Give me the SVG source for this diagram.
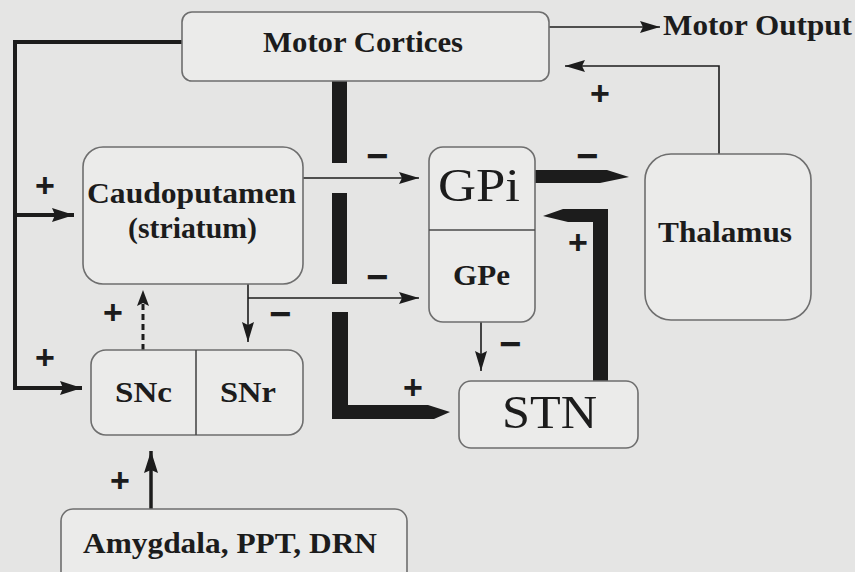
<svg xmlns="http://www.w3.org/2000/svg" width="855" height="572" viewBox="0 0 855 572">
  <defs>
    <style>
      .box { fill: #ebebea; stroke: #6e6e6e; stroke-width: 1.6; }
      .div { stroke: #4a4a4a; stroke-width: 1.6; }
      .lbl { font-family: "Liberation Serif", "Times New Roman", serif; font-weight: bold; fill: #1c1c1c; font-size: 29px; }
      .big { font-family: "Liberation Serif", "Times New Roman", serif; font-weight: normal; fill: #1c1c1c; font-size: 47px; }
      .sign { font-family: "Liberation Sans", Arial, sans-serif; font-weight: bold; fill: #1c1c1c; text-anchor: middle; }
      .thin { fill: none; stroke: #1c1c1c; stroke-width: 1.6; }
      .thick4 { fill: none; stroke: #1c1c1c; stroke-width: 4; }
      .bar { fill: #1c1c1c; }
    </style>
    <marker id="ah" markerUnits="userSpaceOnUse" markerWidth="20" markerHeight="12" viewBox="0 0 20 12" refX="20" refY="6" orient="auto">
      <path d="M0,0 L20,6 L0,12 L3,6 z" fill="#1c1c1c"/>
    </marker>
    <marker id="ahb" markerUnits="userSpaceOnUse" markerWidth="22" markerHeight="14" viewBox="0 0 22 14" refX="22" refY="7" orient="auto">
      <path d="M0,0 L22,7 L0,14 L3,7 z" fill="#1c1c1c"/>
    </marker>
  </defs>

  <rect x="0" y="0" width="855" height="572" fill="#e5e5e4"/>

  <g id="connectors">
    <!-- Motor Cortices feedback to striatum and SNc -->
    <path class="thick4" d="M182,42 H15 V388 H82" marker-end="url(#ahb)"/>
    <path class="thick4" d="M15,215 H74" marker-end="url(#ahb)"/>
    <!-- Motor cortices to motor output -->
    <path class="thin" d="M549,27 H660" marker-end="url(#ah)"/>
    <!-- Thalamus to motor cortices -->
    <path class="thin" d="M719,154 V66 H565" marker-end="url(#ah)"/>
    <!-- Caudoputamen to GPi -->
    <path class="thin" d="M303,178 H419" marker-end="url(#ah)"/>
    <!-- Caudoputamen to SNr and GPe -->
    <path class="thin" d="M248,284 V342" marker-end="url(#ah)"/>
    <path class="thin" d="M248,298 H419" marker-end="url(#ah)"/>
    <!-- GPe to STN -->
    <path class="thin" d="M481,322 V371" marker-end="url(#ah)"/>
    <!-- SNc to caudoputamen (dashed) -->
    <path d="M143,350 V300" fill="none" stroke="#1c1c1c" stroke-width="3" stroke-dasharray="6,4"/>
    <path d="M137,306 L143,290 L149,306 L143,303 z" fill="#1c1c1c"/>
    <!-- Amygdala to SNc -->
    <path d="M151,509 V451" fill="none" stroke="#1c1c1c" stroke-width="3.5" marker-end="url(#ahb)"/>
    <!-- Motor cortices to STN (hyperdirect, thick, interrupted) -->
    <rect class="bar" x="332" y="81" width="15" height="82"/>
    <rect class="bar" x="332" y="193" width="15" height="91"/>
    <polygon class="bar" points="332,312 348,312 348,405 428,405 450,412 434,419 332,419"/>
    <!-- GPi to Thalamus -->
    <polygon class="bar" points="535,170 607,170 629,177 600,183 535,183"/>
    <!-- STN to GPi -->
    <polygon class="bar" points="608,382 593,382 593,222 568,222 543,216 563,209 608,209"/>
    <!-- signs -->
    <text class="sign" x="45" y="197" font-size="34">+</text>
    <text class="sign" x="45" y="369" font-size="34">+</text>
    <text class="sign" x="113" y="324" font-size="34">+</text>
    <text class="sign" x="120" y="492" font-size="34">+</text>
    <text class="sign" x="413" y="399" font-size="34">+</text>
    <text class="sign" x="578" y="254" font-size="34">+</text>
    <text class="sign" x="600" y="105" font-size="34">+</text>
    <text class="sign" x="377" y="169" font-size="38">−</text>
    <text class="sign" x="377" y="290" font-size="38">−</text>
    <text class="sign" x="280" y="327" font-size="38">−</text>
    <text class="sign" x="510" y="357" font-size="38">−</text>
    <text class="sign" x="587" y="169" font-size="38">−</text>
  </g>

  <g id="motor-cortices">
    <rect class="box" x="182" y="12" width="367" height="69" rx="10"/>
    <text class="lbl" x="263" y="52" textLength="200" lengthAdjust="spacingAndGlyphs">Motor Cortices</text>
  </g>
  <g id="motor-output">
    <text class="lbl" x="663" y="35" textLength="189" lengthAdjust="spacingAndGlyphs">Motor Output</text>
  </g>
  <g id="caudoputamen">
    <rect class="box" x="83" y="147" width="220" height="137" rx="20"/>
    <text class="lbl" x="87" y="203" textLength="209" lengthAdjust="spacingAndGlyphs">Caudoputamen</text>
    <text class="lbl" x="128" y="238" textLength="129" lengthAdjust="spacingAndGlyphs">(striatum)</text>
  </g>
  <g id="gp">
    <rect class="box" x="429" y="147" width="106" height="175" rx="14"/>
    <line class="div" x1="429" y1="230" x2="535" y2="230"/>
    <text class="big" x="438" y="201" textLength="82" lengthAdjust="spacingAndGlyphs">GPi</text>
    <text class="lbl" x="453" y="285" textLength="57" lengthAdjust="spacingAndGlyphs">GPe</text>
  </g>
  <g id="thalamus">
    <rect class="box" x="645" y="154" width="166" height="166" rx="26"/>
    <text class="lbl" x="658" y="242" textLength="134" lengthAdjust="spacingAndGlyphs">Thalamus</text>
  </g>
  <g id="sn">
    <rect class="box" x="91" y="350" width="212" height="85" rx="15"/>
    <line class="div" x1="196" y1="350" x2="196" y2="435"/>
    <text class="lbl" x="115" y="402" textLength="57" lengthAdjust="spacingAndGlyphs">SNc</text>
    <text class="lbl" x="220" y="402" textLength="56" lengthAdjust="spacingAndGlyphs">SNr</text>
  </g>
  <g id="stn">
    <rect class="box" x="459" y="381" width="179" height="67" rx="12"/>
    <text class="big" x="502" y="428" textLength="95" lengthAdjust="spacingAndGlyphs">STN</text>
  </g>
  <g id="amygdala">
    <rect class="box" x="61" y="509" width="346" height="80" rx="12"/>
    <text class="lbl" x="83" y="553" textLength="294" lengthAdjust="spacingAndGlyphs">Amygdala, PPT, DRN</text>
  </g>
</svg>
